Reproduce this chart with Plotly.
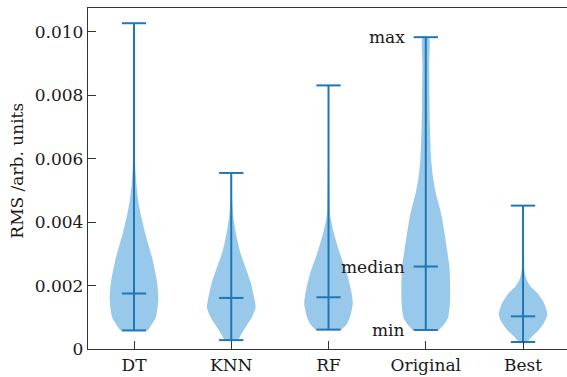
import plotly.graph_objects as go

categories = ["DT", "KNN", "RF", "Original", "Best"]
mins = [0.000585, 0.00028, 0.00061, 0.00060, 0.00022]
medians = [0.00175, 0.00161, 0.00163, 0.00260, 0.00103]
maxs = [0.01027, 0.00555, 0.00831, 0.00983, 0.00452]

# density profiles: value levels and relative half-widths (1 = widest)
dt_levels = [0.000585, 0.00076, 0.0010, 0.00155, 0.0021, 0.0028, 0.00365, 0.0042, 0.0047, 0.0052, 0.0057, 0.0063, 0.0075, 0.0090, 0.01027]
dt_width = [0.56, 0.72, 0.90, 1.00, 0.95, 0.77, 0.46, 0.29, 0.17, 0.10, 0.055, 0.035, 0.02, 0.012, 0.01]
knn_levels = [0.00028, 0.00045, 0.0007, 0.0010, 0.0013, 0.00155, 0.0021, 0.0028, 0.0031, 0.00365, 0.0042, 0.0047, 0.00555]
knn_width = [0.28, 0.40, 0.60, 0.85, 1.00, 0.96, 0.80, 0.48, 0.35, 0.19, 0.08, 0.04, 0.01]
rf_levels = [0.00061, 0.00077, 0.00102, 0.00145, 0.00187, 0.0024, 0.0030, 0.00365, 0.0042, 0.0050, 0.0060, 0.0072, 0.00831]
rf_width = [0.53, 0.74, 0.89, 1.00, 0.92, 0.75, 0.47, 0.22, 0.07, 0.035, 0.02, 0.012, 0.01]
orig_levels = [0.00060, 0.0008, 0.0010, 0.0015, 0.0021, 0.0026, 0.0031, 0.0036, 0.0042, 0.0049, 0.0054, 0.0060, 0.0070, 0.0080, 0.0090, 0.00983]
orig_width = [0.55, 0.78, 0.92, 1.00, 1.00, 0.97, 0.88, 0.78, 0.65, 0.42, 0.30, 0.22, 0.17, 0.15, 0.14, 0.13]
best_levels = [0.00022, 0.0004, 0.0006, 0.00082, 0.00108, 0.00145, 0.00177, 0.00197, 0.00218, 0.0024, 0.0028, 0.0035, 0.00452]
best_width = [0.17, 0.38, 0.65, 0.86, 1.00, 0.86, 0.58, 0.31, 0.15, 0.07, 0.03, 0.012, 0.006]

profiles = [(dt_levels, dt_width), (knn_levels, knn_width), (rf_levels, rf_width),
            (orig_levels, orig_width), (best_levels, best_width)]

y_ticks = [0, 0.002, 0.004, 0.006, 0.008, 0.010]
y_tick_text = ["0", "0.002", "0.004", "0.006", "0.008", "0.010"]

FILL = "rgb(152,201,234)"
LINE = "#1f77b4"
FONT = "DejaVu Serif"
HALF = 0.25   # max half-width of a violin (x units)
CAP = 0.125   # half-length of the caps

fig = go.Figure()
positions = list(range(1, len(categories) + 1))

for pos, (levels, widths) in zip(positions, profiles):
    xs = [pos + HALF * w for w in widths] + [pos - HALF * w for w in reversed(widths)]
    ys = list(levels) + list(reversed(levels))
    fig.add_trace(go.Scatter(x=xs, y=ys, mode="lines", fill="toself", fillcolor=FILL,
                             line=dict(width=0, color=FILL, shape="spline", smoothing=0.6),
                             hoverinfo="skip", showlegend=False))

for pos, lo, me, hi in zip(positions, mins, medians, maxs):
    xs = [pos, pos, None, pos - CAP, pos + CAP, None, pos - CAP, pos + CAP, None, pos - CAP, pos + CAP]
    ys = [lo, hi, None, hi, hi, None, lo, lo, None, me, me]
    fig.add_trace(go.Scatter(x=xs, y=ys, mode="lines", line=dict(color=LINE, width=2),
                             hoverinfo="skip", showlegend=False))

# labels for the Original violin
orig_i = categories.index("Original")
for label, val in [("max", maxs[orig_i]), ("median", medians[orig_i]), ("min", mins[orig_i])]:
    fig.add_annotation(x=positions[orig_i] - 0.19, y=val, text=label, showarrow=False,
                       xanchor="right", yanchor="middle", font=dict(family=FONT, size=17, color="#1a1a1a"))

fig.add_annotation(xref="paper", yref="paper", x=(17 - 88) / 479, y=0.523, text="RMS /arb. units",
                   textangle=-90, showarrow=False, xanchor="center", yanchor="middle",
                   font=dict(family=FONT, size=17, color="#1a1a1a"))

fig.update_layout(
    width=567, height=377,
    margin=dict(l=88, r=0, t=8, b=28),
    plot_bgcolor="white", paper_bgcolor="white",
    font=dict(family=FONT, size=17, color="#1a1a1a"),
    xaxis=dict(range=[0.527, 5.452], tickvals=positions, ticktext=categories,
               showgrid=False, zeroline=False, showline=True, linecolor="#333", linewidth=1.3,
               mirror=True, ticks="inside", ticklen=8, tickwidth=1.2, tickcolor="#333"),
    yaxis=dict(range=[0, 0.01075], tickvals=y_ticks, ticktext=y_tick_text,
               showgrid=False, zeroline=False, showline=True, linecolor="#333", linewidth=1.3,
               ticks="inside", ticklen=8, tickwidth=1.2, tickcolor="#333"),
)

fig.write_html("out.html")
